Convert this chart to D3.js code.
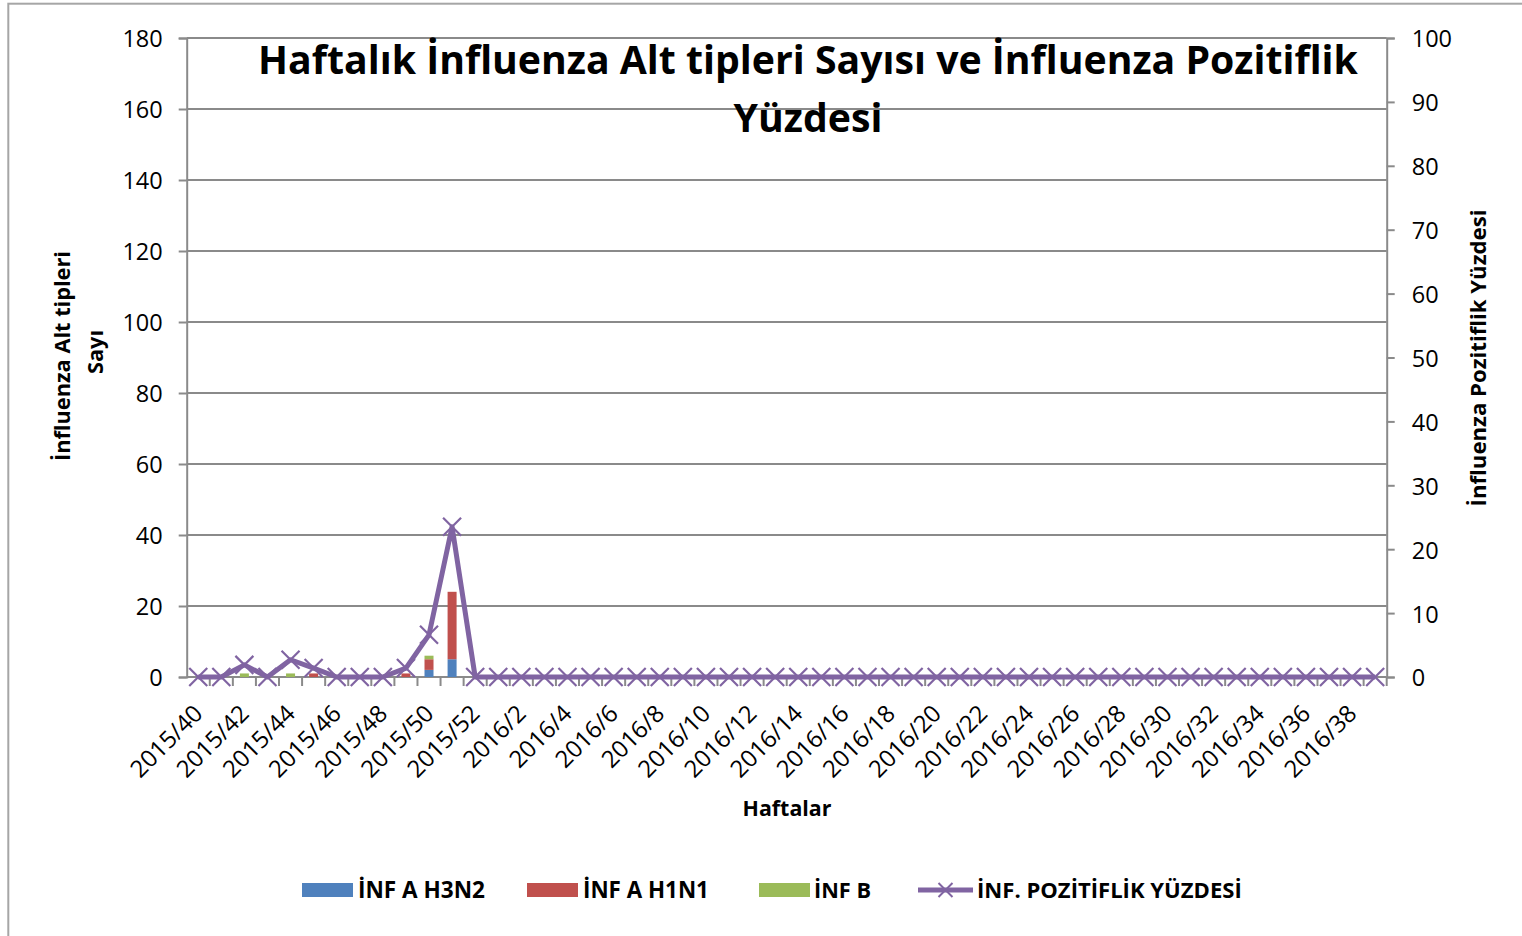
<!DOCTYPE html>
<html>
<head>
<meta charset="utf-8">
<script src="https://cdn.jsdelivr.net/npm/d3@7"></script>
<style>
html,body{margin:0;padding:0;background:#fff;}
svg{display:block;font-family:"Open Sans",sans-serif;}
</style>
</head>
<body>
<svg id="chart" width="1522" height="936"></svg>
<script>
// ---------------- DATA ----------------
const weeks = [
  "2015/40","2015/41","2015/42","2015/43","2015/44","2015/45","2015/46","2015/47","2015/48","2015/49",
  "2015/50","2015/51","2015/52","2016/1","2016/2","2016/3","2016/4","2016/5","2016/6","2016/7",
  "2016/8","2016/9","2016/10","2016/11","2016/12","2016/13","2016/14","2016/15","2016/16","2016/17",
  "2016/18","2016/19","2016/20","2016/21","2016/22","2016/23","2016/24","2016/25","2016/26","2016/27",
  "2016/28","2016/29","2016/30","2016/31","2016/32","2016/33","2016/34","2016/35","2016/36","2016/37",
  "2016/38","2016/39"
];
const tickLabels = [
  "2015/40","2015/42","2015/44","2015/46","2015/48","2015/50","2015/52",
  "2016/2","2016/4","2016/6","2016/8","2016/10","2016/12","2016/14","2016/16","2016/18",
  "2016/20","2016/22","2016/24","2016/26","2016/28","2016/30","2016/32","2016/34","2016/36","2016/38"
];
const h3n2 = [0,0,0,0,0,0,0,0,0,0, 2,5,0,0,0,0,0,0,0,0, 0,0,0,0,0,0,0,0,0,0, 0,0,0,0,0,0,0,0,0,0, 0,0,0,0,0,0,0,0,0,0, 0,0];
const h1n1 = [0,0,0,0,0,1,0,0,0,1, 3,19,0,0,0,0,0,0,0,0, 0,0,0,0,0,0,0,0,0,0, 0,0,0,0,0,0,0,0,0,0, 0,0,0,0,0,0,0,0,0,0, 0,0];
const infB = [0,0,1,0,1,0,0,0,0,0, 1,0,0,0,0,0,0,0,0,0, 0,0,0,0,0,0,0,0,0,0, 0,0,0,0,0,0,0,0,0,0, 0,0,0,0,0,0,0,0,0,0, 0,0];
const positivity = [0,0,1.9,0,2.7,1.4,0,0,0,1.4, 6.6,23.5,0,0,0,0,0,0,0,0, 0,0,0,0,0,0,0,0,0,0, 0,0,0,0,0,0,0,0,0,0, 0,0,0,0,0,0,0,0,0,0, 0,0];
const leftTicks = [0,20,40,60,80,100,120,140,160,180];
const rightTicks = [0,10,20,30,40,50,60,70,80,90,100];
const seriesNames = ["İNF A H3N2","İNF A H1N1","İNF B","İNF. POZİTİFLİK YÜZDESİ"];
const seriesColors = ["#4F81BD","#C0504D","#9BBB59","#8064A2"];
const titleLines = ["Haftalık İnfluenza Alt tipleri Sayısı ve İnfluenza Pozitiflik","Yüzdesi"];
const leftTitleLines = ["İnfluenza Alt tipleri","Sayı"];
const rightTitle = "İnfluenza Pozitiflik Yüzdesi";
const xTitle = "Haftalar";

// ---------------- LAYOUT ----------------
const svg = d3.select("#chart");
const plot = {left:186.7, right:1386.7, top:38, bottom:677};
const gridColor = "#8a8a8a";

// outer frame
svg.append("rect").attr("x",8.3).attr("y",3.7).attr("width",1600).attr("height",1000)
  .attr("fill","none").attr("stroke","#a6a6a6").attr("stroke-width",2);

const x = d3.scaleBand().domain(weeks).range([plot.left, plot.right]).padding(0);
const yL = d3.scaleLinear().domain([0,180]).range([plot.bottom, plot.top]);
const yR = d3.scaleLinear().domain([0,100]).range([plot.bottom, plot.top]);

function fit(sel, target){
  const w = sel.node().getComputedTextLength();
  const fs = parseFloat(sel.attr("font-size"));
  sel.attr("font-size", fs*target/w);
  return sel;
}

// gridlines
svg.append("g").selectAll("line").data(leftTicks.filter(d=>d>0)).join("line")
  .attr("x1",plot.left).attr("x2",plot.right)
  .attr("y1",d=>yL(d)).attr("y2",d=>yL(d))
  .attr("stroke",gridColor).attr("stroke-width",2);

// left axis
const axL = svg.append("g").attr("transform",`translate(${plot.left},0)`)
  .call(d3.axisLeft(yL).tickValues(leftTicks).tickSize(8).tickPadding(16));
axL.select(".domain").attr("stroke",gridColor).attr("stroke-width",2);
axL.selectAll(".tick line").attr("stroke",gridColor).attr("stroke-width",2);
axL.selectAll(".tick text").attr("font-family","Open Sans").attr("font-size",23.5).attr("fill","#000").attr("dy","0.38em");

// right axis
const axR = svg.append("g").attr("transform",`translate(${plot.right},0)`)
  .call(d3.axisRight(yR).tickValues(rightTicks).tickSize(8).tickPadding(17));
axR.select(".domain").attr("stroke",gridColor).attr("stroke-width",2);
axR.selectAll(".tick line").attr("stroke",gridColor).attr("stroke-width",2);
axR.selectAll(".tick text").attr("font-family","Open Sans").attr("font-size",23.5).attr("fill","#000").attr("dy","0.38em");

// x axis (ticks at category boundaries)
const bw = x.bandwidth();
const xg = svg.append("g");
xg.append("line").attr("x1",plot.left).attr("x2",plot.right).attr("y1",plot.bottom).attr("y2",plot.bottom)
  .attr("stroke",gridColor).attr("stroke-width",2);
xg.selectAll("line.tk").data(weeks).join("line").attr("class","tk")
  .attr("x1",d=>x(d)+bw).attr("x2",d=>x(d)+bw)
  .attr("y1",plot.bottom).attr("y2",plot.bottom+9)
  .attr("stroke",gridColor).attr("stroke-width",2);
xg.selectAll("text").data(tickLabels).join("text")
  .attr("transform",d=>`translate(${x(d)+bw/2+6},${plot.bottom+38}) rotate(-45)`)
  .attr("text-anchor","end").attr("font-size",23.8).attr("fill","#000").text(d=>d);

// stacked bars
const stackData = weeks.map((w,i)=>({week:w, h3n2:h3n2[i], h1n1:h1n1[i], infB:infB[i]}));
const stacked = d3.stack().keys(["h3n2","h1n1","infB"])(stackData);
const barW = bw*0.39;
svg.append("g").selectAll("g").data(stacked).join("g")
  .attr("fill",(d,i)=>seriesColors[i])
  .selectAll("rect").data(d=>d.filter(p=>p[1]-p[0]>0)).join("rect")
  .attr("x",d=>x(d.data.week)+bw/2-barW/2).attr("width",barW)
  .attr("y",d=>yL(d[1])).attr("height",d=>yL(d[0])-yL(d[1]));

// positivity line
const line = d3.line().x((d,i)=>x(weeks[i])+bw/2).y(d=>yR(d));
svg.append("path").datum(positivity).attr("d",line)
  .attr("fill","none").attr("stroke",seriesColors[3]).attr("stroke-width",5).attr("stroke-linejoin","round");
const ms = 9;
svg.append("g").selectAll("path").data(positivity).join("path")
  .attr("d",(d,i)=>{const cx=x(weeks[i])+bw/2, cy=yR(d);
    return `M${cx-ms},${cy-ms}L${cx+ms},${cy+ms}M${cx-ms},${cy+ms}L${cx+ms},${cy-ms}`;})
  .attr("stroke",seriesColors[3]).attr("stroke-width",2.2).attr("fill","none");

// titles
const t1 = svg.append("text").attr("x",808).attr("y",74).attr("text-anchor","middle")
  .attr("font-weight","bold").attr("font-size",34).text(titleLines[0]);
fit(t1,1100);
const t2 = svg.append("text").attr("x",808).attr("y",132).attr("text-anchor","middle")
  .attr("font-weight","bold").attr("font-size",t1.attr("font-size")).text(titleLines[1]);

const lt1 = svg.append("text").attr("transform","translate(70,356) rotate(-90)").attr("text-anchor","middle")
  .attr("font-weight","bold").attr("font-size",20).text(leftTitleLines[0]);
fit(lt1,210);
svg.append("text").attr("transform","translate(103,352) rotate(-90)").attr("text-anchor","middle")
  .attr("font-weight","bold").attr("font-size",lt1.attr("font-size")).text(leftTitleLines[1]);

const rt = svg.append("text").attr("transform","translate(1486,358) rotate(-90)").attr("text-anchor","middle")
  .attr("font-weight","bold").attr("font-size",20).text(rightTitle);
fit(rt,297);

const xt = svg.append("text").attr("x",787).attr("y",816).attr("text-anchor","middle")
  .attr("font-weight","bold").attr("font-size",20).text(xTitle);
fit(xt,89);

// legend
const legItems = [
  {sx:302, tx:358, tw:127},
  {sx:527, tx:583, tw:126},
  {sx:759, tx:814, tw:57},
  {sx:918, tx:977, tw:265}
];
const lg = svg.append("g");
legItems.forEach((it,i)=>{
  if(i<3){
    lg.append("rect").attr("x",it.sx).attr("y",883).attr("width",51).attr("height",14).attr("fill",seriesColors[i]);
  } else {
    lg.append("line").attr("x1",it.sx).attr("x2",it.sx+55).attr("y1",890).attr("y2",890)
      .attr("stroke",seriesColors[3]).attr("stroke-width",5);
    const cx = it.sx+27.5, m=7;
    lg.append("path").attr("d",`M${cx-m},${890-m}L${cx+m},${890+m}M${cx-m},${890+m}L${cx+m},${890-m}`)
      .attr("stroke",seriesColors[3]).attr("stroke-width",2).attr("fill","none");
  }
  const t = lg.append("text").attr("x",it.tx).attr("y",898).attr("font-weight","bold").attr("font-size",20).text(seriesNames[i]);
  fit(t,it.tw);
});
</script>
</body>
</html>
